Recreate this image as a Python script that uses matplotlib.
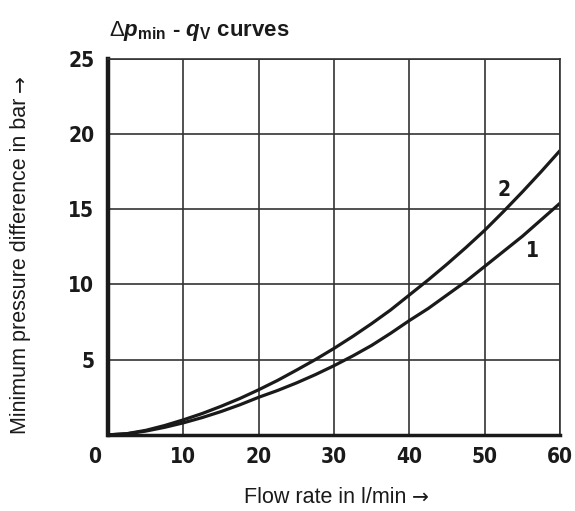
import numpy as np
import matplotlib
matplotlib.use("Agg")
import matplotlib.pyplot as plt
import matplotlib.transforms as mtrans

# data
flow = [0, 2.5, 5, 7.5, 10, 12.5, 15, 17.5, 20, 22.5, 25, 27.5, 30, 32.5, 35, 37.5,
        40, 42.5, 45, 47.5, 50, 52.5, 55, 57.5, 60]
curve_1 = [0, 0.07, 0.25, 0.5, 0.8, 1.15, 1.55, 2.0, 2.5, 2.95, 3.45, 4.0, 4.6, 5.25,
           5.95, 6.75, 7.6, 8.4, 9.3, 10.2, 11.2, 12.2, 13.2, 14.3, 15.4]
curve_2 = [0, 0.08, 0.3, 0.62, 1.0, 1.42, 1.9, 2.42, 3.0, 3.62, 4.3, 5.0, 5.75, 6.55,
           7.4, 8.3, 9.3, 10.3, 11.35, 12.45, 13.6, 14.85, 16.15, 17.5, 18.9]
x_ticks = [0, 10, 20, 30, 40, 50, 60]
y_ticks = [5, 10, 15, 20, 25]

plt.rcParams['font.family'] = ['Liberation Sans', 'DejaVu Sans']
plt.rcParams['mathtext.fontset'] = 'custom'
plt.rcParams['mathtext.rm'] = 'Liberation Sans'
plt.rcParams['mathtext.it'] = 'Liberation Sans:italic'
plt.rcParams['mathtext.bf'] = 'Liberation Sans:bold'
plt.rcParams['mathtext.bfit'] = 'Liberation Sans:bold:italic'

ink = '#1a1a1a'
tick_font = dict(family='DejaVu Sans', stretch='condensed', weight='bold', size=15)

fig = plt.figure(figsize=(5.75, 5.11), dpi=100)
ax = fig.add_axes([0.188, 0.149, 0.786, 0.736])

ax.plot(flow, curve_1, color=ink, lw=2.3, solid_capstyle='butt')
ax.plot(flow, curve_2, color=ink, lw=2.3, solid_capstyle='butt')
ax.text(52.6, 16.3, '2', ha='center', va='center', color=ink, **tick_font)
ax.text(56.3, 12.2, '1', ha='center', va='center', color=ink, **tick_font)

ax.set_xlim(0, 60)
ax.set_ylim(0, 25)
ax.set_xticks(x_ticks)
ax.set_yticks(y_ticks)
ax.set_xticklabels([str(v) for v in x_ticks], color=ink, **tick_font)
ax.set_yticklabels([str(v) for v in y_ticks], color=ink, **tick_font)
ax.tick_params(length=0)
ax.tick_params(axis='x', pad=9)
ax.tick_params(axis='y', pad=10)
# "0" sits a bit left of the corner
lab0 = ax.get_xticklabels()[0]
lab0.set_transform(lab0.get_transform() + mtrans.ScaledTranslation(-0.13, 0, fig.dpi_scale_trans))

ax.grid(True, color='#333333', lw=1.2)
ax.set_axisbelow(True)
for side in ['top', 'right']:
    ax.spines[side].set_linewidth(1.2)
    ax.spines[side].set_color('#333333')
ax.spines['left'].set_linewidth(3.2)
ax.spines['bottom'].set_linewidth(2.5)
ax.spines['left'].set_color(ink)
ax.spines['bottom'].set_color(ink)

# axis labels, arrow drawn separately in DejaVu (longer arrow)
xl = fig.text(0.565, 0.027, 'Flow rate in l/min', ha='center', va='center', fontsize=15.5, color=ink)
yl = fig.text(0.035, 0.48, 'Minimum pressure difference in bar', ha='center', va='center',
              rotation=90, fontsize=15.5, color=ink)
fig.canvas.draw()
r = fig.canvas.get_renderer()
bx = xl.get_window_extent(r)
by = yl.get_window_extent(r)
fig.text((bx.x1 + 6) / fig.bbox.width, 0.027, '\u2192', ha='left', va='center',
         family='DejaVu Sans', fontsize=14.5, color=ink)
fig.text(0.035, (by.y1 + 6) / fig.bbox.height, '\u2192', ha='center', va='bottom', rotation=90,
         family='DejaVu Sans', fontsize=14.5, color=ink)

fig.text(0.19, 0.94, r'$\Delta\mathbfit{p}_{\mathbf{min}}$ - $\mathbfit{q}_{\mathbf{V}}$ curves',
         ha='left', va='center', fontsize=16, weight='bold', color=ink)

fig.savefig('out.png', dpi=100)
